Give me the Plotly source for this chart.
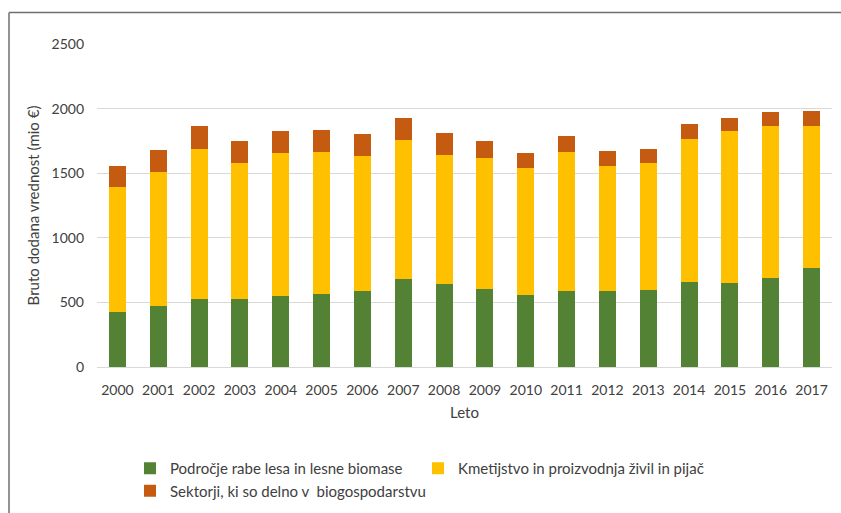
import plotly.graph_objects as go

years = [str(y) for y in range(2000, 2018)]
wood = [428, 472, 526, 526, 547, 562, 591, 681, 642, 601, 557, 591, 586, 596, 658, 648, 691, 769]
agri = [967, 1037, 1159, 1050, 1112, 1102, 1045, 1076, 999, 1014, 986, 1076, 972, 980, 1107, 1176, 1177, 1094]
partial = [161, 168, 180, 173, 168, 173, 170, 170, 168, 132, 116, 119, 114, 109, 116, 106, 108, 121]

names = ["Področje rabe lesa in lesne biomase",
         "Kmetijstvo in proizvodnja živil in pijač",
         "Sektorji, ki so delno v  biogospodarstvu"]
colors = ["#548235", "#FFC000", "#C55A11"]

FONT = "Lato, Carlito, Calibri, sans-serif"
TXT = "#404040"

L, R, T, B = 97, 9, 44, 146
PW = 841 - L - R
PH = 513 - T - B

fig = go.Figure()
for vals, name, col in zip([wood, agri, partial], names, colors):
    fig.add_trace(go.Bar(x=years, y=vals, name=name, marker_color=col,
                         marker_line_width=0))

fig.update_layout(
    barmode="stack",
    bargap=0.58,
    width=841, height=513,
    margin=dict(l=L, r=R, t=T, b=B, autoexpand=False),
    paper_bgcolor="white", plot_bgcolor="white",
    font=dict(family=FONT, size=14, color=TXT),
    showlegend=True,
    legend=dict(orientation="h", xref="container", yref="container",
                x=130 / 841, y=1 - 452 / 513,
                xanchor="left", yanchor="top",
                entrywidth=243, entrywidthmode="pixels",
                tracegroupgap=0,
                font=dict(family=FONT, size=15, color=TXT),
                traceorder="normal"),
    xaxis=dict(title=dict(text="Leto", font=dict(size=15, color=TXT), standoff=10),
               tickfont=dict(size=14, color=TXT), showgrid=False,
               ticklabelstandoff=10, automargin=False,
               showline=True, linecolor="#d9d9d9", ticks=""),
    yaxis=dict(title=dict(text="Bruto dodana vrednost (mio €)", font=dict(size=15, color=TXT), standoff=8),
               range=[0, 2500], dtick=500, tickfont=dict(size=14, color=TXT),
               ticklabelstandoff=12, automargin=False,
               gridcolor="#d9d9d9", gridwidth=1, zeroline=False, ticks=""),
)

# outer frame (top and left edge visible in reference)
x0 = (9 - L) / PW
y1 = (367 - 12.5) / PH
fig.add_shape(type="line", xref="paper", yref="paper", x0=x0, x1=1.1, y0=y1, y1=y1,
              line=dict(color="#6f6f6f", width=1.5))
fig.add_shape(type="line", xref="paper", yref="paper", x0=x0, x1=x0, y0=y1, y1=-0.5,
              line=dict(color="#6f6f6f", width=1.5))

fig.write_html("out.html")
